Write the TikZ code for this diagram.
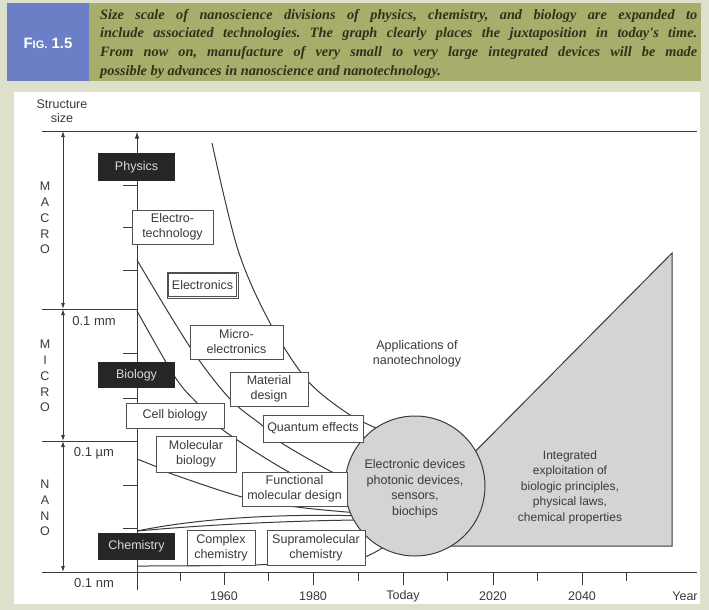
\documentclass[tikz,border=0pt]{standalone}
\usepackage{fontspec}
\setmainfont{Liberation Sans}
\newfontfamily\capfont{Liberation Serif}
\usetikzlibrary{arrows.meta}
\frenchspacing

\definecolor{pagebg}{HTML}{DDE1CB}
\definecolor{figblue}{HTML}{6B7EC6}
\definecolor{figolive}{HTML}{A7AE6C}
\definecolor{captxt}{HTML}{352F1A}
\definecolor{ink}{HTML}{3A3A3A}
\definecolor{boxline}{HTML}{505050}
\definecolor{zonegray}{HTML}{D4D4D4}
\definecolor{darkbox}{HTML}{262626}

\begin{document}
\begin{tikzpicture}[x=1pt,y=-1pt,
  every node/.style={text=ink},
  lbl/.style={draw=boxline, fill=white, line width=0.9pt, align=center,
    inner sep=0pt, font=\fontsize{12.5}{15}\selectfont},
  blk/.style={fill=darkbox, text=white!85!black, inner sep=0pt,
    font=\fontsize{12.5}{15}\selectfont},
  bound/.style={draw=ink, line width=1pt},
  axisline/.style={draw=ink, line width=1pt},
  dimarrow/.style={draw=ink, line width=0.9pt, {Latex[length=6pt,width=4pt]}-{Latex[length=6pt,width=4pt]}},
  ticklbl/.style={font=\fontsize{12.5}{14}\selectfont},
  zone/.style={align=center, font=\fontsize{12.5}{15.5}\selectfont},
  spell/.style={align=center, font=\fontsize{12.5}{15.8}\selectfont}
]
% page and panel
\fill[pagebg] (0,0) rectangle (709,610);
\useasboundingbox (0,0) rectangle (709,610);
\fill[white] (14,92) rectangle (700,604);

% caption band
\fill[figblue] (7,3) rectangle (89,81);
\fill[figolive] (89,3) rectangle (701,81);
\node[text=white, font=\bfseries\fontsize{15}{15}\selectfont] (fig) at (48,43)
  {F{\fontsize{11}{11}\selectfont IG.} 1.5};
\node[anchor=north west, inner sep=0pt, text width=597pt, align=justify,
  text=captxt, font=\capfont\bfseries\itshape\fontsize{14.3}{18.6}\selectfont] (cap) at (100,9)
  {Size scale of nanoscience divisions of physics, chemistry, and biology are expanded to\linebreak
   include associated technologies. The graph clearly places the juxtaposition in today's time.\linebreak
   From now on, manufacture of very small to very large integrated devices will be made\linebreak
   possible by advances in nanoscience and nanotechnology.};

% structure-size axis and decade lines
\node[font=\fontsize{12.5}{14}\selectfont, align=center] (ssize) at (62,111) {Structure\\size};
\draw[axisline] (42,131) -- (697,131);
\draw[axisline] (42,309) -- (137,309);
\draw[axisline] (42,441) -- (137,441);
\draw[axisline] (42,572) -- (697,572);
\draw[axisline, -{Latex[length=7pt,width=4.5pt]}] (137,590) -- (137,131.5);
\foreach \yy in {185,227,270,353,398,485,528}
  \draw[axisline] (123,\yy) -- (137,\yy);

% size ranges
\coordinate (mtop) at (63,131);
\coordinate (mmid) at (63,309);
\coordinate (mnan) at (63,441);
\coordinate (mbot) at (63,572);
\draw[dimarrow] (mtop) -- (mmid);
\draw[dimarrow] (mmid) -- (mnan);
\draw[dimarrow] (mnan) -- (mbot);
\node[spell] (macro) at (45,218) {M\\A\\C\\R\\O};
\node[spell] (micro) at (45,376) {M\\I\\C\\R\\O};
\node[spell] (nano)  at (45,508) {N\\A\\N\\O};
\node[ticklbl, font=\fontsize{13}{14}\selectfont] (mm) at (94,321) {0.1 mm};
\node[ticklbl, font=\fontsize{13}{14}\selectfont] (um) at (94,453) {0.1 µm};
\node[ticklbl, font=\fontsize{13}{14}\selectfont] (nm) at (94,583) {0.1 nm};

% time axis
\foreach \xx in {180,268,358,447,537,626}
  \draw[axisline] (\xx,572) -- (\xx,581);
\foreach \xx/\tl in {224/1960,313/1980,403/Today,493/2020,582/2040}{
  \draw[axisline] (\xx,572) -- (\xx,585);
  \node[ticklbl] at (\xx,596) {\tl};
}
\node[ticklbl] (year) at (685,596) {Year};

% integrated-exploitation zone and device circle
\node[circle, minimum size=140pt, inner sep=0pt] (circ) at (415,486) {};
\filldraw[fill=zonegray, draw=ink, line width=1pt]
  (circ.30) -- (672,253) -- (672,546) -- (415,546) -- cycle;

% development boundaries
\draw[bound] plot[smooth, tension=0.55] coordinates
  {(212,143) (238,250) (270,323) (307,380) (347,413) (circ.124)};
\draw[bound] plot[smooth, tension=0.55] coordinates
  {(137,260) (190,347) (230,399) (263,426) (280,442) (330,471) (circ.173)};
\draw[bound] plot[smooth, tension=0.55] coordinates
  {(137,311) (175,377) (197,403) (223,430) (287,471) (330,490)};
\draw[bound] plot[smooth, tension=0.55] coordinates
  {(137,459) (157,467) (172,474) (242,497) (297,507) (circ.202)};
\draw[bound] (137,531) .. controls (200,518) and (280,514) .. (circ.205);
\draw[bound] (137,531) .. controls (215,524) and (290,521) .. (circ.209);
\draw[bound] (137,566) .. controls (220,566) and (330,565) .. (365,557)
  .. controls (372,554) and (378,551) .. (circ.242);

\filldraw[fill=zonegray, draw=ink, line width=1pt] (circ.center) circle (70pt);
\node[zone] (devices) at (415,489)
  {Electronic devices\\photonic devices,\\sensors,\\biochips};
\node[zone, font=\fontsize{12}{15.5}\selectfont] (integ) at (570,487)
  {Integrated\\exploitation of\\biologic principles,\\physical laws,\\chemical properties};
\node[zone] (apps) at (417,354)
  {Applications of\\nanotechnology};

% disciplines
\node[blk, minimum width=77pt, minimum height=28pt] (phys) at (136.5,167) {Physics};
\node[blk, minimum width=77pt, minimum height=26pt] (bio)  at (136.5,375) {Biology};
\node[blk, minimum width=77pt, minimum height=27pt] (chem) at (136.5,546.5) {Chemistry};

% associated technologies
\node[lbl, minimum width=81pt, minimum height=34pt] (etech) at (172.5,227) {Electro-\\technology};
\node[lbl, minimum width=71pt, minimum height=26pt] (elec) at (202.5,285) {Electronics};
\draw[draw=boxline, line width=0.7pt]
  ([shift={(2.2,-2.2)}]elec.south west) rectangle ([shift={(-2.2,2.2)}]elec.north east);
\node[lbl, minimum width=93pt, minimum height=34pt] (micro) at (236.5,342) {Micro-\\electronics};
\node[lbl, minimum width=78pt, minimum height=34pt] (mat) at (269,389) {Material\\design};
\node[lbl, minimum width=98pt, minimum height=25pt] (cell) at (175,415.5) {Cell biology};
\node[lbl, minimum width=100pt, minimum height=27pt] (quant) at (313,428.5) {Quantum effects};
\node[lbl, minimum width=80pt, minimum height=36pt] (molbio) at (196,454) {Molecular\\biology};
\node[lbl, minimum width=105pt, minimum height=34pt] (func) at (294.5,489) {Functional\\molecular design};
\node[lbl, minimum width=68pt, minimum height=35pt] (cplx) at (221,547.5) {Complex\\chemistry};
\node[lbl, minimum width=98pt, minimum height=35pt] (supra) at (316,547.5) {Supramolecular\\chemistry};
\end{tikzpicture}
\end{document}
